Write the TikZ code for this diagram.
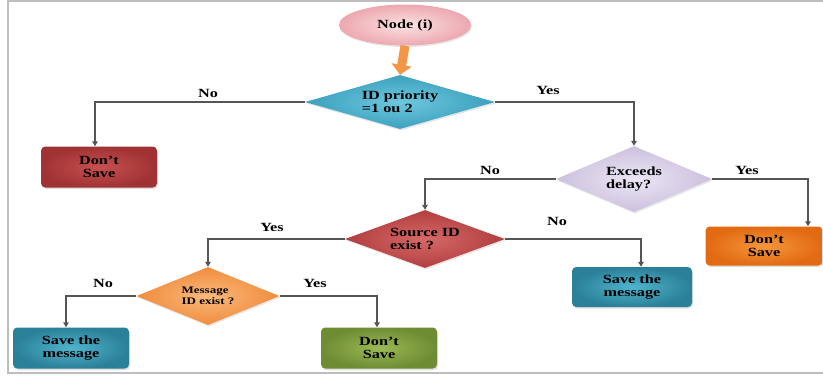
\documentclass[tikz,border=0pt]{standalone}
\usepackage{fontspec}
\setmainfont{Liberation Serif}[FakeStretch=1.3]
\usetikzlibrary{positioning,shapes.geometric,arrows.meta,shadows}
\definecolor{frameColor}{RGB}{190,190,190}
\definecolor{lineColor}{RGB}{85,85,85}
\definecolor{pinkOuter}{RGB}{236,168,175}
\definecolor{pinkInner}{RGB}{252,226,228}
\definecolor{arrowOrange}{RGB}{245,150,70}
\definecolor{blueOuter}{RGB}{60,160,190}
\definecolor{blueInner}{RGB}{110,200,222}
\definecolor{lilacOuter}{RGB}{204,192,222}
\definecolor{lilacInner}{RGB}{236,230,244}
\definecolor{redOuter}{RGB}{178,62,62}
\definecolor{redInner}{RGB}{214,105,105}
\definecolor{boxRedOuter}{RGB}{160,50,52}
\definecolor{boxRedInner}{RGB}{200,80,80}
\definecolor{orangeOuter}{RGB}{240,140,60}
\definecolor{orangeInner}{RGB}{250,185,125}
\definecolor{boxOrangeOuter}{RGB}{226,106,18}
\definecolor{boxOrangeInner}{RGB}{245,150,60}
\definecolor{tealOuter}{RGB}{42,128,152}
\definecolor{tealInner}{RGB}{80,180,205}
\definecolor{greenOuter}{RGB}{110,140,50}
\definecolor{greenInner}{RGB}{155,185,85}
\tikzstyle{chart} = [x = 1pt, y = -1pt]
\tikzstyle{flowText} = [font=\bfseries\fontsize{12.5}{13}\selectfont, text=black]
\tikzstyle{labelText} = [flowText, inner sep=1pt]
\tikzstyle{flowLine} = [color=lineColor, line width=1.2pt, -{Triangle[length=5pt, width=5.5pt]}]
\tikzstyle{boxStyle} = [flowText, rectangle, rounded corners = .15cm, align=center, minimum width=116, minimum height=41, inner sep=0, drop shadow={opacity=.25, shadow xshift=1pt, shadow yshift=-1.5pt}]
\tikzstyle{decisionStyle} = [flowText, diamond, aspect=3.5, align=left, inner sep=0, drop shadow={opacity=.2, shadow xshift=1pt, shadow yshift=-1.5pt}]
\newcommand{\branchLabel}[3]{\node [labelText] (#1) at (#2) {#3};}

\begin{document}
\begin{tikzpicture}[chart]
  \useasboundingbox (0,0) rectangle (823,376);
  % frame
  \draw [frameColor, line width=1.2pt] (823,1) -- (8,1) -- (8,373) -- (823,373);

  % start and decisions
  \node [flowText, ellipse, minimum width=132, minimum height=41, inner color=pinkInner, outer color=pinkOuter, drop shadow={opacity=.2, shadow xshift=1pt, shadow yshift=-1.5pt}] (nodeI) at (405,25) {Node (i)};
  \node [decisionStyle, minimum width=190, minimum height=54, inner color=blueInner, outer color=blueOuter] (idPriority) at (400,102) {ID priority\\=1 ou 2};
  \node [decisionStyle, minimum width=156, minimum height=66, inner color=lilacInner, outer color=lilacOuter] (exceedsDelay) at (634,179) {Exceeds\\delay?};
  \node [decisionStyle, minimum width=160, minimum height=58, inner color=redInner, outer color=redOuter] (sourceId) at (425,239) {Source ID\\exist ?};
  \node [decisionStyle, minimum width=143, minimum height=58, inner color=orangeInner, outer color=orangeOuter, font=\bfseries\fontsize{10}{10.5}\selectfont] (messageId) at (208,296) {Message\\ID exist ?};

  % results
  \node [boxStyle, inner color=boxRedInner, outer color=boxRedOuter] (dontSaveRed) at (99,167) {Don't\\Save};
  \node [boxStyle, minimum width=117, minimum height=39, inner color=boxOrangeInner, outer color=boxOrangeOuter] (dontSaveOrange) at (764,246) {Don't\\Save};
  \node [boxStyle, minimum width=120, minimum height=40, inner color=tealInner, outer color=tealOuter] (saveMsgRight) at (632,287) {Save the\\message};
  \node [boxStyle, inner color=tealInner, outer color=tealOuter] (saveMsgLeft) at (71,348) {Save the\\message};
  \node [boxStyle, inner color=greenInner, outer color=greenOuter] (dontSaveGreen) at (379,348) {Don't\\Save};

  % connectors
  \draw [arrowOrange, line width=9pt, -{Triangle[length=10pt, width=20pt]}] (nodeI.south) -- (idPriority.north);
  \draw [flowLine] (idPriority.west) -| ([xshift=-4]dontSaveRed.north);
  \draw [flowLine] (idPriority.east) -| (exceedsDelay.north);
  \draw [flowLine] (exceedsDelay.east) -| ([xshift=44]dontSaveOrange.north);
  \draw [flowLine] (exceedsDelay.west) -| (sourceId.north);
  \draw [flowLine] (sourceId.east) -| ([xshift=9]saveMsgRight.north);
  \draw [flowLine] (sourceId.west) -| (messageId.north);
  \draw [flowLine] (messageId.west) -| ([xshift=-5]saveMsgLeft.north);
  \draw [flowLine] (messageId.east) -| ([xshift=-2]dontSaveGreen.north);

  % branch labels
  \branchLabel{noPriority}{208,93}{No}
  \branchLabel{yesPriority}{548,90}{Yes}
  \branchLabel{yesDelay}{747,170}{Yes}
  \branchLabel{noDelay}{490,170}{No}
  \branchLabel{noSource}{557,221}{No}
  \branchLabel{yesSource}{272,227}{Yes}
  \branchLabel{noMessage}{103,283}{No}
  \branchLabel{yesMessage}{315,283}{Yes}
\end{tikzpicture}
\end{document}
